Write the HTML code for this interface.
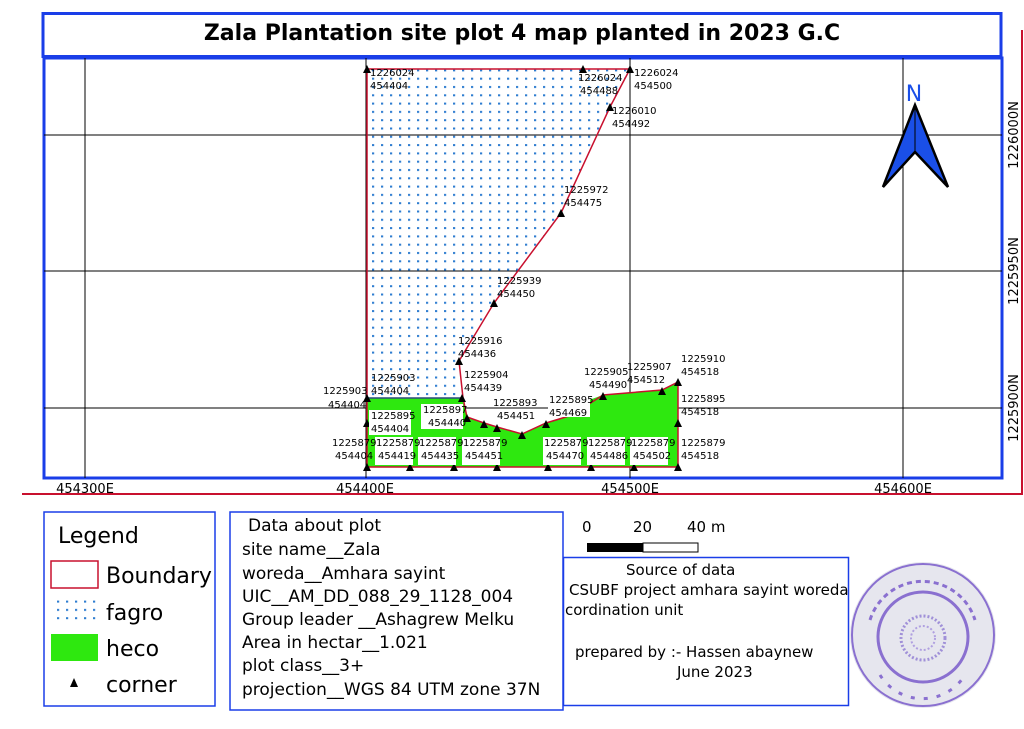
<!DOCTYPE html>
<html><head><meta charset="utf-8"><style>
body{margin:0;background:#fff;}
svg text{font-family:"DejaVu Sans","Liberation Sans",sans-serif;}
</style></head><body>
<svg width="1024" height="724" viewBox="0 0 1024 724" xmlns="http://www.w3.org/2000/svg">
<defs>
<pattern id="dots" width="9" height="8.3" patternUnits="userSpaceOnUse"><rect x="3" y="3" width="2.2" height="2" fill="#2e7dd0"/></pattern>
<g id="tri"><polygon points="0,-5 -4,3 4,3" fill="#000"/></g>
</defs>
<rect width="1024" height="724" fill="#fff"/>
<rect x="43" y="13.5" width="958" height="43" fill="#fff" stroke="#1a3ee8" stroke-width="3"/>
<text x="522" y="40" text-anchor="middle" font-size="22" font-weight="bold">Zala Plantation site plot 4 map planted in 2023 G.C</text>
<rect x="44" y="58" width="958" height="420" fill="#fff" stroke="#1a3ee8" stroke-width="3"/>
<g stroke="#000" stroke-width="1">
<line x1="85" y1="58" x2="85" y2="478"/><line x1="366" y1="58" x2="366" y2="478"/>
<line x1="630" y1="58" x2="630" y2="478"/><line x1="903" y1="58" x2="903" y2="478"/>
<line x1="44" y1="135" x2="1002" y2="135"/><line x1="44" y1="271" x2="1002" y2="271"/><line x1="44" y1="408" x2="1002" y2="408"/>
</g>
<line x1="1022" y1="30" x2="1022" y2="494" stroke="#c8102e" stroke-width="2"/>
<line x1="22" y1="494" x2="1023" y2="494" stroke="#c8102e" stroke-width="2"/>
<g font-size="13" text-anchor="middle">
<text x="85" y="493">454300E</text><text x="365" y="493">454400E</text><text x="630" y="493">454500E</text><text x="903" y="493">454600E</text>
<text transform="translate(1018,135) rotate(-90)">1226000N</text>
<text transform="translate(1018,271) rotate(-90)">1225950N</text>
<text transform="translate(1018,408) rotate(-90)">1225900N</text>
</g>
<polygon points="367,69 630,69 610,107 561,213 494,303 459,361 463,398 367,398" fill="url(#dots)"/>
<polygon points="367,398 462,398 467,417 484,423 497,427 522,434 546,423 589,410 589,400 603,395 662,390 678,382 678,467 367,467" fill="#2ee80f"/>
<g fill="none" stroke="#c8102e" stroke-width="1.5">
<polyline points="367,467 367,69 630,69 610,107 561,213 494,303 459,361 463,398 467,417 484,423 497,427 522,434 546,423 589,410"/>
<polyline points="589,404 603,395 662,390 678,382 678,467 367,467"/>
</g>
<line x1="367" y1="398" x2="462" y2="398" stroke="#2b4a7a" stroke-width="1.5"/>
<g>
<use href="#tri" x="367" y="70"/><use href="#tri" x="583" y="70"/><use href="#tri" x="630" y="70"/>
<use href="#tri" x="610" y="108"/><use href="#tri" x="561" y="214"/><use href="#tri" x="494" y="304"/>
<use href="#tri" x="459" y="362"/><use href="#tri" x="367" y="399"/><use href="#tri" x="462" y="399"/>
<use href="#tri" x="467" y="419"/><use href="#tri" x="484" y="425"/><use href="#tri" x="497" y="429"/>
<use href="#tri" x="522" y="436"/><use href="#tri" x="546" y="425"/><use href="#tri" x="603" y="397"/>
<use href="#tri" x="662" y="392"/><use href="#tri" x="678" y="383"/><use href="#tri" x="678" y="424"/>
<use href="#tri" x="367" y="424"/>
<use href="#tri" x="367" y="468"/><use href="#tri" x="410" y="468"/><use href="#tri" x="454" y="468"/><use href="#tri" x="497" y="468"/>
<use href="#tri" x="548" y="468"/><use href="#tri" x="591" y="468"/><use href="#tri" x="634" y="468"/><use href="#tri" x="678" y="468"/>
</g>
<g fill="#fff">
<rect x="369" y="410" width="42" height="25"/><rect x="421" y="404" width="42" height="25"/>
<rect x="375" y="437" width="38" height="28"/><rect x="418" y="437" width="38" height="28"/><rect x="462" y="437" width="38" height="28"/>
<rect x="543" y="437" width="38" height="28"/><rect x="587" y="437" width="38" height="28"/><rect x="630" y="437" width="38" height="28"/>
<rect x="548" y="392" width="42" height="25"/>
</g>
<g font-size="10" fill="#000">
<text x="370" y="76">1226024</text><text x="370" y="89">454404</text>
<text x="578" y="81">1226024</text><text x="580" y="94">454488</text>
<text x="634" y="76">1226024</text><text x="634" y="89">454500</text>
<text x="612" y="114">1226010</text><text x="612" y="127">454492</text>
<text x="564" y="193">1225972</text><text x="564" y="206">454475</text>
<text x="497" y="284">1225939</text><text x="497" y="297">454450</text>
<text x="458" y="344">1225916</text><text x="458" y="357">454436</text>
<text x="464" y="378">1225904</text><text x="464" y="391">454439</text>
<text x="371" y="381">1225903</text><text x="371" y="394">454404</text>
<text x="323" y="394">1225903</text><text x="328" y="408">454404</text>
<text x="371" y="419">1225895</text><text x="371" y="432">454404</text>
<text x="423" y="413">1225897</text><text x="428" y="426">454440</text>
<text x="493" y="406">1225893</text><text x="497" y="419">454451</text>
<text x="549" y="403">1225895</text><text x="549" y="416">454469</text>
<text x="584" y="375">1225905</text><text x="589" y="388">454490</text>
<text x="627" y="370">1225907</text><text x="627" y="383">454512</text>
<text x="681" y="362">1225910</text><text x="681" y="375">454518</text>
<text x="681" y="402">1225895</text><text x="681" y="415">454518</text>
<text x="681" y="446">1225879</text><text x="681" y="459">454518</text>
<text x="332" y="446">1225879</text><text x="335" y="459">454404</text>
<text x="376" y="446">1225879</text><text x="378" y="459">454419</text>
<text x="419" y="446">1225879</text><text x="421" y="459">454435</text>
<text x="463" y="446">1225879</text><text x="465" y="459">454451</text>
<text x="544" y="446">1225879</text><text x="546" y="459">454470</text>
<text x="588" y="446">1225879</text><text x="590" y="459">454486</text>
<text x="631" y="446">1225879</text><text x="633" y="459">454502</text>
</g>
<text x="914" y="101" text-anchor="middle" font-size="22" fill="#1a4fe8">N</text>
<polygon points="915,105 883,187 915,152 948,187" fill="#1a4fe8" stroke="#000" stroke-width="2.5"/>
<line x1="915" y1="105" x2="915" y2="152" stroke="#000" stroke-width="1"/>
<rect x="44" y="512" width="171" height="194" fill="#fff" stroke="#1a3ee8" stroke-width="1.5"/>
<g font-size="22">
<text x="58" y="543">Legend</text>
<rect x="51" y="561" width="47" height="27" fill="#fff" stroke="#c8102e" stroke-width="1.5"/><text x="106" y="583">Boundary</text>
<rect x="51" y="598" width="47" height="27" fill="url(#dots)"/><text x="106" y="620">fagro</text>
<rect x="51" y="634" width="47" height="27" fill="#2ee80f"/><text x="106" y="656">heco</text>
<polygon points="74,678 70,687 78,687" fill="#000"/><text x="106" y="692">corner</text>
</g>
<rect x="230" y="512" width="333" height="198" fill="#fff" stroke="#1a3ee8" stroke-width="1.5"/>
<g font-size="17">
<text x="248" y="531">Data about plot</text>
<text x="242" y="555">site name__Zala</text>
<text x="242" y="579">woreda__Amhara sayint</text>
<text x="242" y="602">UIC__AM_DD_088_29_1128_004</text>
<text x="242" y="625">Group leader __Ashagrew Melku</text>
<text x="242" y="648">Area in hectar__1.021</text>
<text x="242" y="671">plot class__3+</text>
<text x="242" y="695">projection__WGS 84 UTM zone 37N</text>
</g>
<g font-size="15">
<text x="582" y="532">0</text><text x="633" y="532">20</text><text x="687" y="532">40 m</text>
</g>
<rect x="587" y="543" width="56" height="9" fill="#000"/>
<rect x="643" y="543" width="55" height="9" fill="#fff" stroke="#000" stroke-width="1"/>
<rect x="563.5" y="557.5" width="285" height="148" fill="#fff" stroke="#1a3ee8" stroke-width="1.5"/>
<g font-size="15">
<text x="626" y="575">Source of data</text>
<text x="569" y="595">CSUBF project amhara sayint woreda</text>
<text x="565" y="615">cordination unit</text>
<text x="575" y="657">prepared by :- Hassen abaynew</text>
<text x="677" y="677">June 2023</text>
</g>
<circle cx="923" cy="635" r="73" fill="#e6e6ee"/>
<circle cx="923" cy="635" r="71" fill="none" stroke="#8a70d0" stroke-width="2"/>
<circle cx="923" cy="637" r="45" fill="none" stroke="#8a70d0" stroke-width="3"/>
<circle cx="923" cy="638" r="22" fill="none" stroke="#a090d8" stroke-width="3" stroke-dasharray="2 2"/>
<circle cx="923" cy="638" r="12" fill="none" stroke="#b0a0e0" stroke-width="2" stroke-dasharray="2 2"/>
<path d="M870,620 A55,55 0 0 1 975,620" fill="none" stroke="#8a70d0" stroke-width="3" stroke-dasharray="5 4"/>
<path d="M880,675 A50,50 0 0 0 965,675" fill="none" stroke="#8a70d0" stroke-width="3" stroke-dasharray="4 9"/>
</svg>
</body></html>
